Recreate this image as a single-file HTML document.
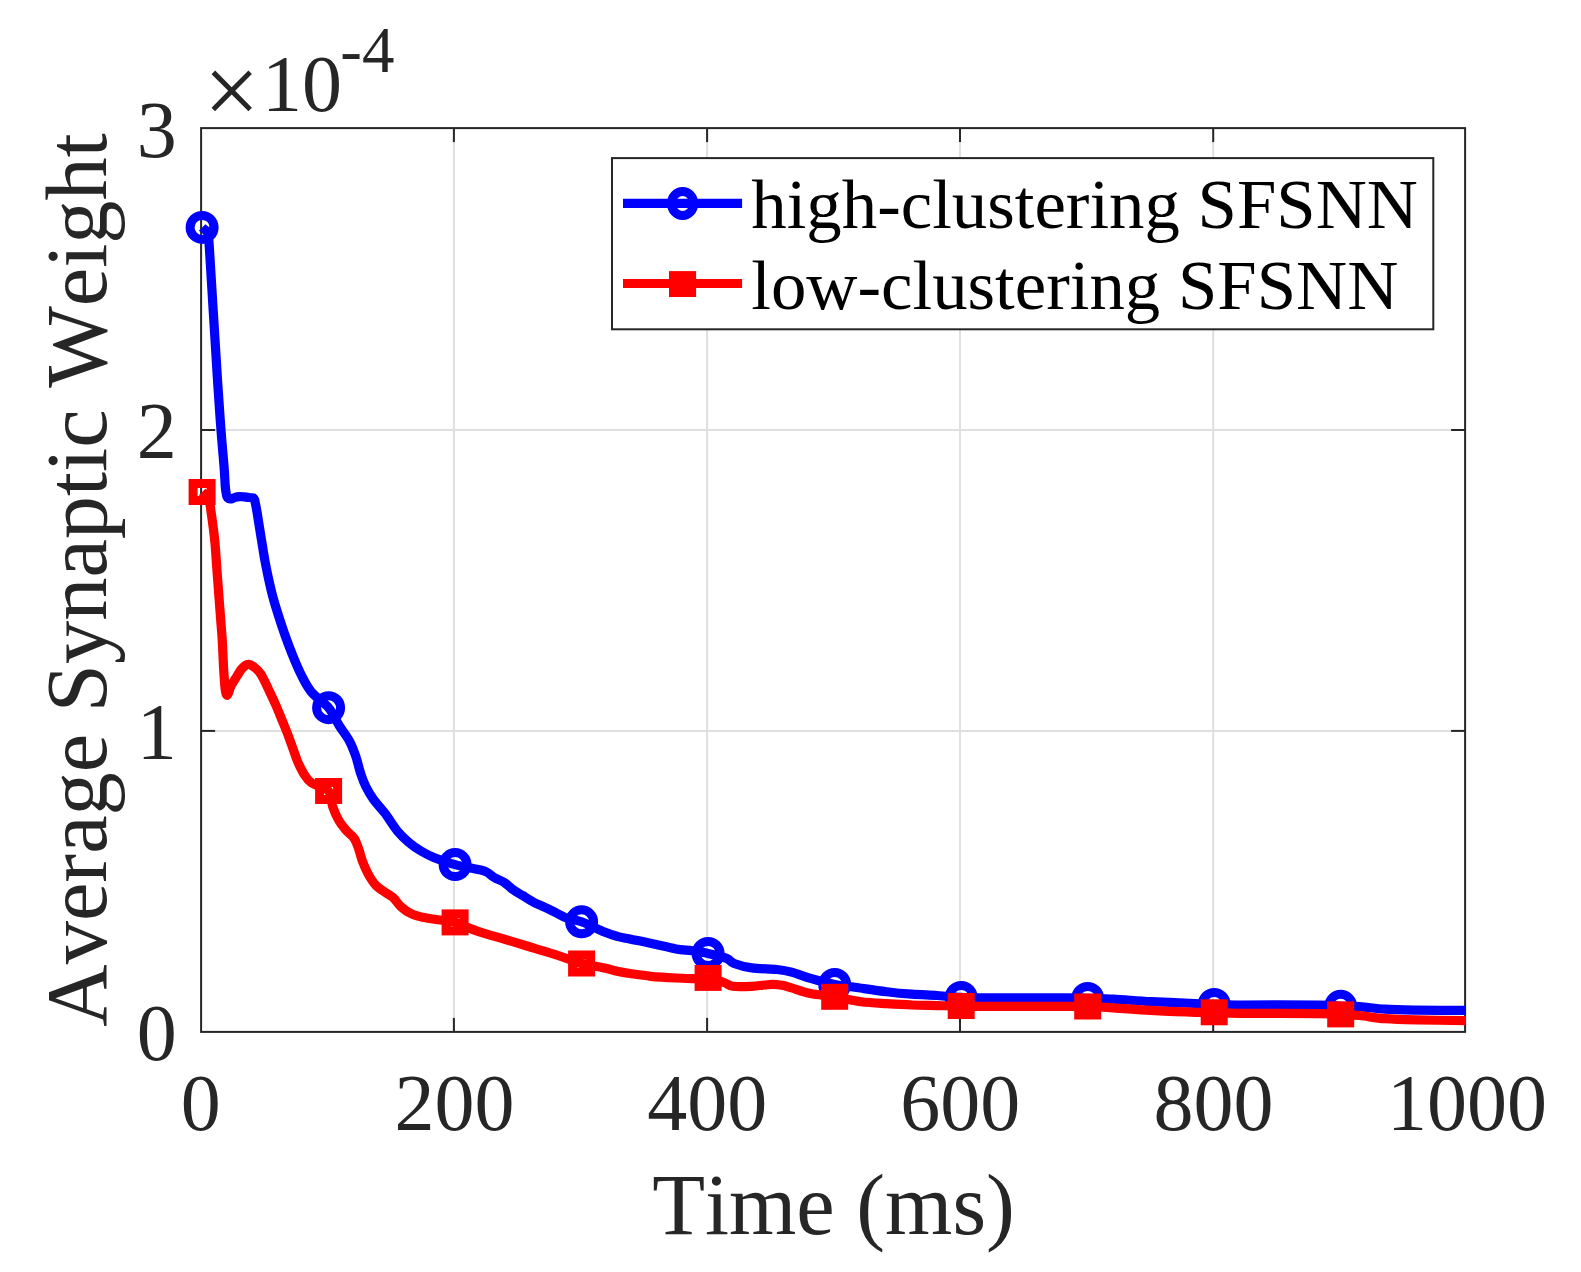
<!DOCTYPE html>
<html><head><meta charset="utf-8"><title>Average Synaptic Weight</title>
<style>html,body{margin:0;padding:0;background:#fff}body{width:1581px;height:1272px;overflow:hidden}</style></head>
<body>
<svg width="1581" height="1272" viewBox="0 0 1581 1272" style="display:block">
<rect width="1581" height="1272" fill="#fff"/>
<line x1="453.9" y1="128.1" x2="453.9" y2="1031.9" stroke="#dfdfdf" stroke-width="2"/>
<line x1="707.1" y1="128.1" x2="707.1" y2="1031.9" stroke="#dfdfdf" stroke-width="2"/>
<line x1="960.0" y1="128.1" x2="960.0" y2="1031.9" stroke="#dfdfdf" stroke-width="2"/>
<line x1="1213.2" y1="128.1" x2="1213.2" y2="1031.9" stroke="#dfdfdf" stroke-width="2"/>
<line x1="201.1" y1="730.9" x2="1465.1" y2="730.9" stroke="#dfdfdf" stroke-width="2"/>
<line x1="201.1" y1="430.0" x2="1465.1" y2="430.0" stroke="#dfdfdf" stroke-width="2"/>
<rect x="201.1" y="128.1" width="1264.0" height="903.8" fill="none" stroke="#262626" stroke-width="2"/>
<line x1="453.9" y1="1031.9" x2="453.9" y2="1017.9" stroke="#262626" stroke-width="2"/>
<line x1="453.9" y1="128.1" x2="453.9" y2="142.1" stroke="#262626" stroke-width="2"/>
<line x1="707.1" y1="1031.9" x2="707.1" y2="1017.9" stroke="#262626" stroke-width="2"/>
<line x1="707.1" y1="128.1" x2="707.1" y2="142.1" stroke="#262626" stroke-width="2"/>
<line x1="960.0" y1="1031.9" x2="960.0" y2="1017.9" stroke="#262626" stroke-width="2"/>
<line x1="960.0" y1="128.1" x2="960.0" y2="142.1" stroke="#262626" stroke-width="2"/>
<line x1="1213.2" y1="1031.9" x2="1213.2" y2="1017.9" stroke="#262626" stroke-width="2"/>
<line x1="1213.2" y1="128.1" x2="1213.2" y2="142.1" stroke="#262626" stroke-width="2"/>
<line x1="201.1" y1="730.9" x2="215.1" y2="730.9" stroke="#262626" stroke-width="2"/>
<line x1="1465.1" y1="730.9" x2="1451.1" y2="730.9" stroke="#262626" stroke-width="2"/>
<line x1="201.1" y1="430.0" x2="215.1" y2="430.0" stroke="#262626" stroke-width="2"/>
<line x1="1465.1" y1="430.0" x2="1451.1" y2="430.0" stroke="#262626" stroke-width="2"/>
<defs><clipPath id="c"><rect x="0" y="0" width="1466.1" height="1272"/></clipPath></defs>
<g clip-path="url(#c)">
<path d="M202.1 227.4 C203.1 228.4 206.9 230.5 208.1 233.5 C209.3 236.5 207.6 220.9 209.2 245.3 C210.8 269.7 215.5 349.2 217.5 380.0 C219.5 410.8 219.9 415.2 221.0 430.0 C222.1 444.8 223.5 459.4 224.2 468.6 C224.9 477.8 224.9 481.2 225.2 485.3 C225.5 489.4 225.8 491.0 226.1 492.9 C226.4 494.8 226.6 495.9 227.0 496.8 C227.4 497.8 227.9 498.2 228.6 498.6 C229.3 499.0 229.9 499.1 231.0 498.9 C232.1 498.7 233.6 497.8 235.0 497.4 C236.4 497.0 238.2 496.7 239.7 496.6 C241.2 496.5 242.6 496.8 244.0 496.9 C245.4 497.0 246.8 497.3 248.0 497.4 C249.2 497.5 250.6 497.6 251.5 497.7 C252.4 497.8 252.9 497.7 253.4 498.0 C253.9 498.3 254.3 498.8 254.6 499.6 C254.9 500.4 254.9 501.2 255.3 503.0 C255.7 504.8 256.2 507.2 256.8 510.6 C257.4 514.0 258.0 518.4 258.8 523.3 C259.6 528.2 260.5 534.0 261.5 540.0 C262.5 546.0 263.5 552.7 264.6 559.0 C265.8 565.3 267.0 571.7 268.4 578.0 C269.8 584.3 271.2 590.7 272.9 597.0 C274.6 603.3 276.6 609.7 278.6 616.0 C280.6 622.3 282.6 628.4 284.9 634.9 C287.2 641.4 289.8 648.3 292.5 655.0 C295.2 661.7 298.2 668.8 301.3 675.0 C304.4 681.2 306.9 686.5 311.4 692.0 C315.9 697.5 323.9 702.1 328.6 707.7 C333.2 713.3 335.8 720.2 339.3 725.8 C342.8 731.3 346.7 736.0 349.4 741.0 C352.1 746.0 353.8 750.6 355.7 756.1 C357.6 761.6 359.1 768.8 360.8 773.9 C362.5 779.0 363.7 782.3 365.8 786.5 C367.9 790.7 370.2 794.8 373.4 799.2 C376.6 803.6 380.8 807.8 384.8 813.1 C388.8 818.4 393.2 825.9 397.2 830.8 C401.2 835.6 404.6 838.8 408.6 842.2 C412.6 845.6 417.0 848.6 421.2 851.1 C425.4 853.6 428.1 855.1 433.8 857.4 C439.5 859.6 447.7 862.6 455.1 864.6 C462.5 866.6 472.9 868.3 478.1 869.5 C483.3 870.7 483.8 870.6 486.5 872.0 C489.2 873.4 491.4 875.8 494.4 877.6 C497.4 879.4 501.6 880.7 504.5 882.6 C507.4 884.5 509.2 886.8 512.1 888.9 C515.1 891.0 518.6 893.1 522.2 895.3 C525.8 897.5 529.8 900.2 533.6 902.2 C537.4 904.2 541.2 905.5 545.0 907.3 C548.8 909.1 552.8 911.2 556.4 913.0 C560.0 914.8 562.3 916.5 566.5 918.0 C570.7 919.5 575.3 919.5 581.6 921.8 C588.0 924.1 598.6 929.6 604.5 932.0 C610.4 934.4 612.9 935.1 617.1 936.3 C621.3 937.5 624.2 937.8 629.8 939.0 C635.4 940.2 642.9 941.6 650.6 943.3 C658.3 944.9 669.0 947.6 675.9 948.9 C682.8 950.1 686.9 950.0 692.3 950.8 C697.7 951.5 702.4 952.1 708.1 953.4 C713.8 954.7 722.2 956.7 726.5 958.4 C730.8 960.1 729.9 961.9 734.1 963.5 C738.3 965.1 744.6 966.9 751.8 967.9 C759.0 968.9 770.5 968.8 777.1 969.5 C783.7 970.2 786.0 970.6 791.6 972.1 C797.2 973.6 803.4 976.3 810.6 978.4 C817.8 980.5 827.3 983.0 834.7 984.5 C842.0 986.0 846.3 986.1 854.9 987.3 C863.5 988.5 877.0 990.6 886.5 991.7 C896.0 992.9 903.4 993.6 911.8 994.2 C920.2 994.8 928.9 995.0 937.1 995.5 C945.3 996.0 954.0 997.0 961.2 997.4 C968.3 997.8 962.0 997.7 980.0 997.8 C998.0 997.9 1051.0 997.7 1069.0 997.8 C1087.0 997.9 1080.3 998.2 1087.7 998.4 C1095.1 998.6 1102.9 998.6 1113.4 999.1 C1123.9 999.6 1137.0 1000.9 1150.6 1001.6 C1164.2 1002.3 1184.3 1003.0 1194.9 1003.5 C1205.5 1004.0 1206.7 1004.2 1214.2 1004.5 C1221.7 1004.8 1222.4 1004.9 1240.0 1005.0 C1257.6 1005.1 1303.2 1004.8 1320.0 1005.0 C1336.8 1005.2 1334.1 1006.0 1340.7 1006.3 C1347.3 1006.6 1352.2 1006.2 1359.6 1006.7 C1367.0 1007.2 1375.4 1008.6 1384.9 1009.2 C1394.4 1009.8 1403.0 1009.9 1416.5 1010.1 C1430.0 1010.3 1457.8 1010.4 1466.0 1010.4" fill="none" stroke="#0000ff" stroke-width="9.2" stroke-linejoin="round"/>
<circle cx="202.1" cy="227.4" r="12" fill="none" stroke="#0000ff" stroke-width="9.0"/>
<circle cx="328.6" cy="707.7" r="12" fill="none" stroke="#0000ff" stroke-width="9.0"/>
<circle cx="455.1" cy="864.6" r="12" fill="none" stroke="#0000ff" stroke-width="9.0"/>
<circle cx="581.6" cy="921.8" r="12" fill="none" stroke="#0000ff" stroke-width="9.0"/>
<circle cx="708.1" cy="953.4" r="12" fill="none" stroke="#0000ff" stroke-width="9.0"/>
<circle cx="834.7" cy="984.5" r="12" fill="none" stroke="#0000ff" stroke-width="9.0"/>
<circle cx="961.2" cy="997.4" r="12" fill="none" stroke="#0000ff" stroke-width="9.0"/>
<circle cx="1087.7" cy="998.4" r="12" fill="none" stroke="#0000ff" stroke-width="9.0"/>
<circle cx="1214.2" cy="1004.5" r="12" fill="none" stroke="#0000ff" stroke-width="9.0"/>
<circle cx="1340.7" cy="1006.3" r="12" fill="none" stroke="#0000ff" stroke-width="9.0"/>
<path d="M202.1 492.0 C203.1 493.0 206.9 494.9 208.4 498.0 C209.9 501.1 209.9 503.6 210.9 510.6 C211.9 517.6 213.8 530.9 214.7 540.0 C215.6 549.1 216.0 556.9 216.6 565.3 C217.2 573.7 217.9 582.2 218.5 590.6 C219.1 599.0 219.8 607.5 220.4 615.9 C221.0 624.3 221.8 632.8 222.3 641.2 C222.8 649.6 223.1 659.1 223.5 666.5 C223.9 673.9 224.5 681.2 224.8 685.5 C225.2 689.8 225.3 690.4 225.6 692.0 C225.9 693.6 226.3 695.1 226.8 695.3 C227.3 695.5 227.8 694.5 228.5 693.0 C229.2 691.5 229.6 688.8 231.0 686.0 C232.4 683.2 235.0 679.3 236.8 676.4 C238.6 673.5 240.1 670.5 242.0 668.5 C243.9 666.5 246.2 664.6 248.2 664.4 C250.2 664.1 251.9 665.4 254.0 667.0 C256.1 668.6 258.4 670.2 260.8 673.9 C263.2 677.6 265.9 683.8 268.4 689.1 C270.9 694.4 273.7 700.2 276.0 705.5 C278.3 710.8 280.4 716.1 282.3 720.7 C284.2 725.4 285.7 729.0 287.4 733.4 C289.1 737.8 290.8 742.7 292.5 747.3 C294.2 751.9 295.6 756.8 297.5 761.2 C299.4 765.6 301.6 770.3 303.9 773.9 C306.2 777.5 307.3 779.9 311.4 782.7 C315.5 785.6 325.0 787.0 328.6 791.0 C332.1 795.0 331.0 801.8 332.7 806.8 C334.4 811.8 336.7 816.7 339.0 820.7 C341.3 824.7 344.1 827.8 346.6 830.8 C349.1 833.8 352.2 835.4 354.2 838.4 C356.2 841.4 357.2 844.8 358.6 848.6 C360.0 852.4 360.8 857.0 362.4 861.2 C364.0 865.4 365.9 869.9 368.1 873.9 C370.3 877.9 372.8 882.1 375.7 885.2 C378.6 888.4 382.9 890.7 385.8 892.8 C388.8 894.9 390.9 895.6 393.4 897.9 C395.9 900.2 398.1 904.1 401.0 906.7 C403.9 909.3 407.3 911.9 411.1 913.7 C414.9 915.5 418.9 916.5 423.7 917.5 C428.5 918.5 435.0 919.2 440.2 920.0 C445.4 920.8 448.8 920.5 455.1 922.4 C461.4 924.3 470.0 928.5 478.0 931.3 C486.0 934.0 494.9 936.4 503.3 938.9 C511.7 941.4 520.2 944.0 528.6 946.5 C537.0 949.0 547.6 952.1 553.9 954.1 C560.2 956.1 561.9 956.9 566.5 958.5 C571.1 960.1 575.3 961.9 581.6 963.5 C588.0 965.1 598.6 966.7 604.5 968.0 C610.4 969.3 612.9 970.4 617.1 971.3 C621.3 972.2 624.2 972.7 629.8 973.5 C635.4 974.3 642.9 975.5 650.6 976.3 C658.3 977.0 668.5 977.6 675.9 978.0 C683.3 978.4 689.5 978.7 694.9 978.7 C700.3 978.7 703.3 977.3 708.1 977.9 C713.0 978.5 719.9 981.1 724.0 982.5 C728.1 983.9 728.2 985.7 732.8 986.3 C737.4 986.9 746.5 986.5 751.8 986.3 C757.1 986.1 760.8 985.3 764.4 985.0 C768.0 984.7 770.1 984.3 773.3 984.4 C776.5 984.5 780.3 985.0 783.4 985.6 C786.5 986.2 787.1 986.6 791.6 987.9 C796.1 989.2 803.4 992.1 810.6 993.6 C817.8 995.1 826.2 995.4 834.7 996.8 C843.1 998.2 852.6 1000.6 861.2 1001.8 C869.8 1002.9 878.1 1003.2 886.5 1003.7 C894.9 1004.2 903.4 1004.7 911.8 1005.0 C920.2 1005.3 928.9 1005.4 937.1 1005.6 C945.3 1005.8 954.0 1005.9 961.2 1006.0 C968.3 1006.1 962.0 1006.3 980.0 1006.4 C998.0 1006.5 1051.0 1006.4 1069.0 1006.4 C1087.0 1006.4 1080.3 1006.2 1087.7 1006.5 C1095.1 1006.8 1102.9 1007.2 1113.4 1007.9 C1123.9 1008.5 1137.0 1009.7 1150.6 1010.4 C1164.2 1011.1 1184.3 1012.0 1194.9 1012.3 C1205.5 1012.6 1206.7 1012.1 1214.2 1012.3 C1221.7 1012.5 1222.4 1013.1 1240.0 1013.3 C1257.6 1013.5 1303.2 1013.4 1320.0 1013.6 C1336.8 1013.8 1334.1 1014.1 1340.7 1014.4 C1347.3 1014.7 1352.2 1014.8 1359.6 1015.5 C1367.0 1016.2 1375.4 1018.0 1384.9 1018.7 C1394.4 1019.4 1403.0 1019.6 1416.5 1019.9 C1430.0 1020.2 1457.8 1020.5 1466.0 1020.6" fill="none" stroke="#ff0000" stroke-width="9.2" stroke-linejoin="round"/>
<rect x="193.1" y="483.5" width="18" height="17" fill="none" stroke="#ff0000" stroke-width="9"/>
<rect x="319.6" y="782.5" width="18" height="17" fill="none" stroke="#ff0000" stroke-width="9"/>
<rect x="446.1" y="913.9" width="18" height="17" fill="none" stroke="#ff0000" stroke-width="9"/>
<rect x="572.6" y="955.0" width="18" height="17" fill="none" stroke="#ff0000" stroke-width="9"/>
<rect x="699.1" y="969.4" width="18" height="17" fill="none" stroke="#ff0000" stroke-width="9"/>
<rect x="825.7" y="988.3" width="18" height="17" fill="none" stroke="#ff0000" stroke-width="9"/>
<rect x="952.2" y="997.5" width="18" height="17" fill="none" stroke="#ff0000" stroke-width="9"/>
<rect x="1078.7" y="998.0" width="18" height="17" fill="none" stroke="#ff0000" stroke-width="9"/>
<rect x="1205.2" y="1003.8" width="18" height="17" fill="none" stroke="#ff0000" stroke-width="9"/>
<rect x="1331.7" y="1005.9" width="18" height="17" fill="none" stroke="#ff0000" stroke-width="9"/>
</g>
<rect x="612" y="158.1" width="821.3" height="171.2" fill="#fff" stroke="#262626" stroke-width="2"/>
<line x1="623" y1="203.4" x2="742.1" y2="203.4" stroke="#0000ff" stroke-width="9.1"/>
<ellipse cx="682.6" cy="203.5" rx="11.1" ry="12.1" fill="none" stroke="#0000ff" stroke-width="9"/>
<line x1="623" y1="283.5" x2="742.1" y2="283.5" stroke="#ff0000" stroke-width="8.9"/>
<rect x="669" y="271.1" width="27.1" height="25.9" fill="#ff0000"/>
<text x="751.3" y="228.2" font-family="Liberation Serif, serif" style="font-kerning:none" font-size="70.8" fill="#000">high-clustering SFSNN</text>
<text x="751.3" y="308.9" font-family="Liberation Serif, serif" style="font-kerning:none" font-size="70.8" fill="#000">low-clustering SFSNN</text>
<text x="200.8" y="1130" text-anchor="middle" font-family="Liberation Serif, serif" style="font-kerning:none" font-size="80" fill="#262626">0</text>
<text x="454.4" y="1130" text-anchor="middle" font-family="Liberation Serif, serif" style="font-kerning:none" font-size="80" fill="#262626">200</text>
<text x="707.3" y="1130" text-anchor="middle" font-family="Liberation Serif, serif" style="font-kerning:none" font-size="80" fill="#262626">400</text>
<text x="960.3" y="1130" text-anchor="middle" font-family="Liberation Serif, serif" style="font-kerning:none" font-size="80" fill="#262626">600</text>
<text x="1213.5" y="1130" text-anchor="middle" font-family="Liberation Serif, serif" style="font-kerning:none" font-size="80" fill="#262626">800</text>
<text x="1467.0" y="1130" text-anchor="middle" font-family="Liberation Serif, serif" style="font-kerning:none" font-size="80" fill="#262626">1000</text>
<text x="176.8" y="1059.9" text-anchor="end" font-family="Liberation Serif, serif" style="font-kerning:none" font-size="80" fill="#262626">0</text>
<text x="176.8" y="758.9" text-anchor="end" font-family="Liberation Serif, serif" style="font-kerning:none" font-size="80" fill="#262626">1</text>
<text x="176.8" y="458.0" text-anchor="end" font-family="Liberation Serif, serif" style="font-kerning:none" font-size="80" fill="#262626">2</text>
<text x="176.8" y="156.7" text-anchor="end" font-family="Liberation Serif, serif" style="font-kerning:none" font-size="80" fill="#262626">3</text>
<text x="203.7" y="124.3" font-family="Liberation Serif, serif" style="font-kerning:none" font-size="99" fill="#262626">×</text>
<text x="302" y="110.8" text-anchor="middle" font-family="Liberation Serif, serif" style="font-kerning:none" font-size="80" fill="#262626">10</text>
<text x="340.3" y="71.9" font-family="Liberation Serif, serif" style="font-kerning:none" font-size="65" fill="#262626">-4</text>
<text x="833.5" y="1234" text-anchor="middle" font-family="Liberation Serif, serif" style="font-kerning:none" font-size="86.5" fill="#262626">Time (ms)</text>
<text transform="translate(106.3,580) rotate(-90)" text-anchor="middle" font-family="Liberation Serif, serif" style="font-kerning:none" font-size="86.5" fill="#262626">Average Synaptic Weight</text>
</svg>
</body></html>
